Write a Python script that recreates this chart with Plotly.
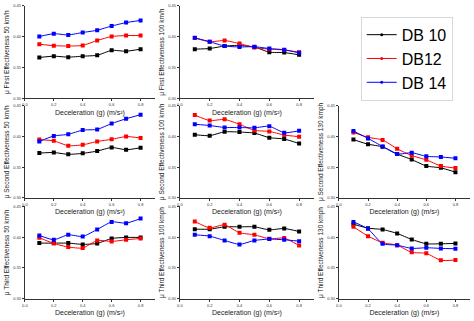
import plotly.graph_objects as go

# Deceleration levels (g)
decel = [0.1, 0.2, 0.3, 0.4, 0.5, 0.6, 0.7, 0.8]

series_names = ["DB 10", "DB12", "DB 14"]
series_colors = ["#000000", "#ff0000", "#0000ff"]

# First effectiveness
first_50_db10 = [0.3665, 0.3686, 0.3670, 0.3686, 0.3700, 0.3780, 0.3766, 0.3800]
first_50_db12 = [0.3880, 0.3856, 0.3850, 0.3860, 0.3940, 0.4005, 0.4020, 0.4020]
first_50_db14 = [0.4005, 0.4050, 0.4030, 0.4070, 0.4106, 0.4175, 0.4230, 0.4266]

first_100_db10 = [0.3800, 0.3810, 0.3850, 0.3860, 0.3835, 0.3750, 0.3745, 0.3707]
first_100_db12 = [0.3980, 0.3920, 0.3940, 0.3890, 0.3825, 0.3800, 0.3787, 0.3750]
first_100_db14 = [0.3984, 0.3920, 0.3850, 0.3835, 0.3840, 0.3810, 0.3790, 0.3740]

# Second effectiveness
second_50_db10 = [0.3731, 0.3740, 0.3710, 0.3726, 0.3763, 0.3822, 0.3785, 0.3817]
second_50_db12 = [0.3950, 0.3930, 0.3850, 0.3865, 0.3920, 0.3955, 0.4000, 0.3977]
second_50_db14 = [0.3920, 0.4010, 0.4036, 0.4105, 0.4116, 0.4212, 0.4290, 0.4356]

second_100_db10 = [0.4030, 0.4014, 0.4078, 0.4073, 0.4057, 0.3982, 0.3960, 0.3886]
second_100_db12 = [0.4350, 0.4260, 0.4280, 0.4200, 0.4100, 0.4084, 0.4025, 0.3998]
second_100_db14 = [0.4200, 0.4180, 0.4148, 0.4148, 0.4142, 0.4169, 0.4062, 0.4094]

second_130_db10 = [0.3950, 0.3875, 0.3833, 0.3715, 0.3625, 0.3520, 0.3490, 0.3420]
second_130_db12 = [0.4067, 0.3987, 0.3945, 0.3800, 0.3690, 0.3620, 0.3520, 0.3486]
second_130_db14 = [0.4090, 0.3970, 0.3838, 0.3715, 0.3737, 0.3678, 0.3667, 0.3646]

# Third effectiveness
third_50_db10 = [0.3903, 0.3903, 0.3903, 0.3882, 0.3898, 0.3978, 0.3995, 0.3995]
third_50_db12 = [0.3990, 0.3898, 0.3839, 0.3823, 0.3946, 0.3930, 0.3957, 0.3978]
third_50_db14 = [0.4027, 0.3957, 0.4038, 0.4010, 0.4124, 0.4247, 0.4226, 0.4300]

third_100_db10 = [0.4129, 0.4129, 0.4167, 0.4167, 0.4167, 0.4118, 0.4140, 0.4091]
third_100_db12 = [0.4253, 0.4150, 0.4200, 0.4070, 0.4038, 0.3973, 0.3984, 0.3866]
third_100_db14 = [0.4038, 0.4016, 0.3946, 0.3882, 0.3946, 0.3968, 0.3957, 0.3935]

third_130_db10 = [0.4210, 0.4145, 0.4124, 0.4060, 0.3962, 0.3892, 0.3892, 0.3898]
third_130_db12 = [0.4167, 0.4016, 0.3909, 0.3870, 0.3753, 0.3737, 0.3624, 0.3629]
third_130_db14 = [0.4247, 0.4134, 0.3892, 0.3870, 0.3817, 0.3828, 0.3817, 0.3812]

y_ticks = [0.30, 0.35, 0.40, 0.45]
x_ticks = [0.0, 0.2, 0.4, 0.6, 0.8]
x_title = "Deceleration (g) (m/s²)"

W, H = 474, 321

# (row, col, y title, [DB 10, DB12, DB 14])
panels = [
    (0, 0, "μ First Effectiveness 50 km/h", [first_50_db10, first_50_db12, first_50_db14]),
    (0, 1, "μ First Effectiveness 100 km/h", [first_100_db10, first_100_db12, first_100_db14]),
    (1, 0, "μ Second Effectiveness 50 km/h", [second_50_db10, second_50_db12, second_50_db14]),
    (1, 1, "μ Second Effectiveness 100 km/h", [second_100_db10, second_100_db12, second_100_db14]),
    (1, 2, "μ Second Effectiveness 130 kmph", [second_130_db10, second_130_db12, second_130_db14]),
    (2, 0, "μ Third Effectiveness 50 km/h", [third_50_db10, third_50_db12, third_50_db14]),
    (2, 1, "μ Third Effectiveness 100 kmph", [third_100_db10, third_100_db12, third_100_db14]),
    (2, 2, "μ Third Effectiveness 130 kmph", [third_130_db10, third_130_db12, third_130_db14]),
]

# pixel extents of each plotting area
col_px = [(22, 153), (178, 313), (338, 470)]
row_px = [(3, 97), (104.5, 198), (206.5, 300.5)]

FONT = "Liberation Sans, Arial, sans-serif"
fig = go.Figure()
layout = {}

for i, (r, c, ytitle, ys) in enumerate(panels, start=1):
    xa = "x" if i == 1 else f"x{i}"
    ya = "y" if i == 1 else f"y{i}"
    for name, color, yv in zip(series_names, series_colors, ys):
        fig.add_trace(go.Scatter(
            x=decel, y=yv, mode="lines+markers", name=name,
            line=dict(color=color, width=1, shape="spline", smoothing=0.5),
            marker=dict(symbol="square", size=4, color=color),
            xaxis=xa, yaxis=ya, showlegend=False,
        ))
    x0, x1 = col_px[c]
    y0, y1 = row_px[r]
    axis_common = dict(
        showgrid=False, zeroline=False, showline=True,
        linecolor="#333333", linewidth=1,
        ticks="outside", ticklen=2, tickwidth=1, tickcolor="#333333",
        tickfont=dict(family=FONT, size=4, color="#333333"),
    )
    layout["xaxis" if i == 1 else f"xaxis{i}"] = dict(
        axis_common, domain=[x0 / W, x1 / W], range=[0, 0.9],
        tickvals=x_ticks, ticktext=[f"{v:.1f}" for v in x_ticks],
        anchor=ya,
        title=dict(text=x_title, font=dict(family=FONT, size=7, color="#222222"), standoff=3),
    )
    layout["yaxis" if i == 1 else f"yaxis{i}"] = dict(
        axis_common, domain=[1 - y1 / H, 1 - y0 / H], range=[0.30, 0.45],
        tickvals=y_ticks, ticktext=[f"{v:.2f}" for v in y_ticks],
        anchor=xa,
        title=dict(text=ytitle, font=dict(family=FONT, size=6.5, color="#222222"), standoff=2),
    )

# legend entries: line with a small dot
for name, color in zip(series_names, series_colors):
    fig.add_trace(go.Scatter(
        x=[None], y=[None], mode="lines+markers", name=name,
        line=dict(color=color, width=1),
        marker=dict(symbol="circle", size=3, color=color),
        showlegend=True, xaxis="x", yaxis="y",
    ))

fig.update_layout(
    **layout,
    width=W, height=H,
    margin=dict(l=0, r=0, t=0, b=0),
    paper_bgcolor="white", plot_bgcolor="white",
    showlegend=True,
    legend=dict(
        x=360 / W, y=1 - 14 / H, xanchor="left", yanchor="top",
        bordercolor="#d8d8d8", borderwidth=1, bgcolor="white",
        font=dict(family=FONT, size=16, color="#000000"),
        tracegroupgap=0, itemwidth=30,
    ),
)

fig.write_html("out.html")
